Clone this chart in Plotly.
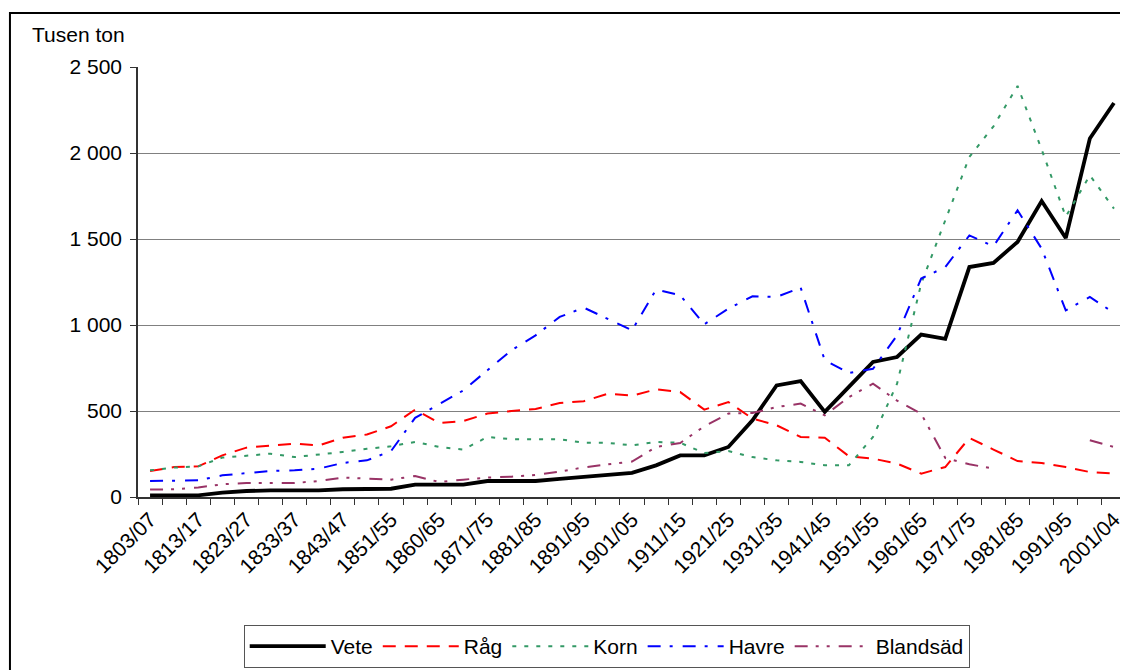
import plotly.graph_objects as go

periods = [
    "1803/07", "1808/12", "1813/17", "1818/22", "1823/27", "1828/32", "1833/37", "1838/42",
    "1843/47", "1848/50", "1851/55", "1856/59", "1860/65", "1866/70", "1871/75", "1876/80",
    "1881/85", "1886/90", "1891/95", "1896/1900", "1901/05", "1906/10", "1911/15", "1916/20",
    "1921/25", "1926/30", "1931/35", "1936/40", "1941/45", "1946/50", "1951/55", "1956/60",
    "1961/65", "1966/70", "1971/75", "1976/80", "1981/85", "1986/90", "1991/95", "1996/2000",
    "2001/04",
]

vete = [10, 10, 10, 25, 35, 38, 38, 38, 45, 47, 48, 72, 72, 72, 93, 93, 93, 105, 117, 128,
        140, 184, 242, 242, 291, 446, 649, 674, 495, 640, 785, 814, 944, 919, 1337, 1361,
        1483, 1721, 1506, 2084, 2291]
rag = [151, 174, 178, 242, 287, 300, 310, 300, 345, 363, 411, 508, 430, 442, 485, 500, 512,
       546, 557, 601, 589, 626, 610, 508, 552, 456, 417, 349, 345, 237, 223, 194, 136, 174,
       343, 276, 209, 198, 174, 145, 136]
korn = [155, 171, 178, 229, 240, 252, 232, 245, 262, 280, 295, 320, 291, 276, 349, 336, 336,
        336, 315, 315, 300, 320, 315, 256, 267, 232, 213, 204, 184, 184, 349, 659, 1240, 1610,
        1977, 2155, 2390, 2020, 1630, 1870, 1677]
havre = [93, 93, 97, 126, 140, 151, 155, 165, 198, 213, 267, 460, 540, 620, 737, 853, 940,
         1047, 1101, 1037, 969, 1206, 1173, 1004, 1095, 1167, 1163, 1217, 795, 721, 745, 940,
         1270, 1337, 1521, 1458, 1667, 1444, 1085, 1163, 1070]
blandsad = [43, 45, 55, 74, 81, 81, 81, 93, 113, 107, 101, 122, 87, 101, 113, 118, 128, 147,
            172, 190, 206, 291, 314, 411, 485, 488, 523, 543, 475, 581, 659, 560, 484, 227,
            190, 165, None, None, None, 330, 291]

y_ticks = [0, 500, 1000, 1500, 2000, 2500]
y_labels = ["0", "500", "1 000", "1 500", "2 000", "2 500"]
x_labels = [p if i % 2 == 0 else "" for i, p in enumerate(periods)]

FONT = "Liberation Sans, Arial, sans-serif"

series = [
    ("Vete", vete, "#000000", 3.8, "solid"),
    ("Råg", rag, "#FF0000", 2, "13px,9px"),
    ("Korn", korn, "#339966", 2, "4px,8px"),
    ("Havre", havre, "#0000FF", 2, "13px,9px,3px,10px"),
    ("Blandsäd", blandsad, "#993366", 2, "13px,8px,3px,8px,3px,9px"),
]

fig = go.Figure()
for name, values, color, width, dash in series:
    fig.add_trace(
        go.Scatter(
            x = periods,
            y = values,
            name = name,
            mode = "lines",
            connectgaps = False,
            line = dict(color = color, width = width, dash = dash)
        )
    )

fig.update_xaxes(
    type = "category",
    range = [-0.5, len(periods) - 0.5],
    tickmode = "array",
    tickvals = periods,
    ticktext = x_labels,
    tickangle = -45,
    tickson = "boundaries",
    ticks = "outside",
    ticklen = 6,
    tickcolor = "#333333",
    showline = True,
    linecolor = "#333333",
    linewidth = 2,
    showgrid = False,
    tickfont = dict(family = FONT, size = 21, color = "black")
)
fig.update_yaxes(
    range = [0, 2500],
    tickmode = "array",
    tickvals = y_ticks,
    ticktext = y_labels,
    ticks = "outside",
    ticklen = 6,
    tickcolor = "#333333",
    showline = True,
    linecolor = "#333333",
    linewidth = 1.5,
    showgrid = True,
    gridcolor = "#808080",
    gridwidth = 1,
    zeroline = False,
    ticklabelstandoff = 4,
    tickfont = dict(family = FONT, size = 21, color = "black")
)

fig.add_annotation(
    text = "Tusen ton",
    xref = "paper", yref = "paper",
    x = -0.1093, y = 1.0767,
    xanchor = "left", yanchor = "middle",
    showarrow = False,
    font = dict(family = FONT, size = 21, color = "black")
)
# chart border and right edge of plot area
fig.add_shape(type = "rect", xref = "paper", yref = "paper",
              x0 = -0.1296, x1 = 1.02, y0 = 1.1256, y1 = -0.45,
              line = dict(color = "black", width = 2))
fig.add_shape(type = "line", xref = "paper", yref = "paper",
              x0 = 1, x1 = 1, y0 = 0, y1 = 1,
              line = dict(color = "#808080", width = 1))

# page body has an 8px margin, so the figure is 8px smaller than the window
fig.update_layout(
    width = 1120,
    height = 662,
    margin = dict(l = 130, r = 2, t = 59, b = 173),
    paper_bgcolor = "white",
    plot_bgcolor = "white",
    legend = dict(
        orientation = "h",
        x = 0.107, y = -0.2977,
        xanchor = "left", yanchor = "top",
        bordercolor = "#555555",
        borderwidth = 1,
        itemwidth = 76,
        font = dict(family = FONT, size = 21, color = "black")
    )
)

fig.write_html("out.html")
